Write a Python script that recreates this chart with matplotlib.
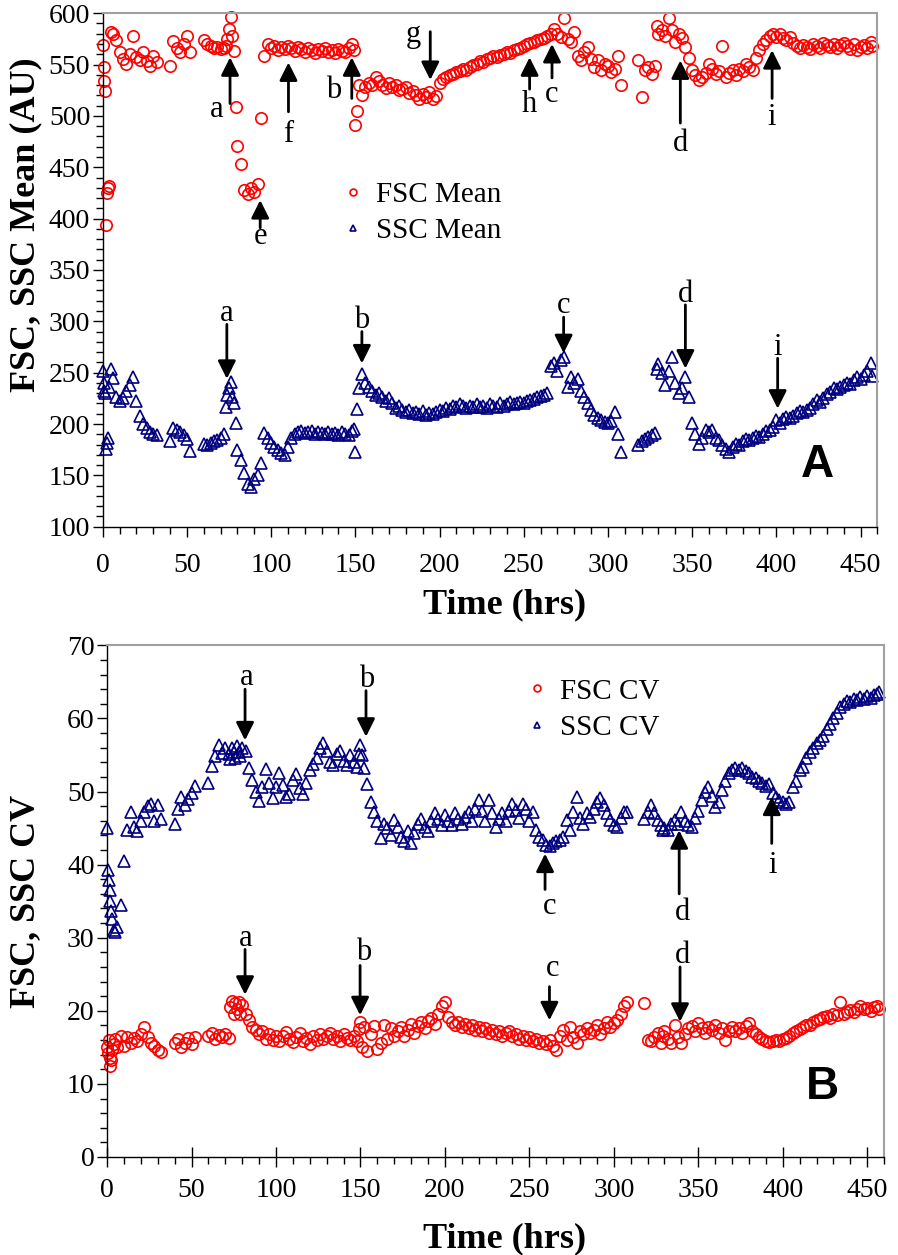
import numpy as np
import matplotlib
matplotlib.use("Agg")
import matplotlib.pyplot as plt
from matplotlib.ticker import MultipleLocator

# ---------------------------
# Daten
# ---------------------------
hours = [
    0, 0.5, 1, 1.5, 2, 2.5, 3, 4, 5, 6,
    8, 10, 12, 14, 16, 18, 20, 22, 24, 26,
    28, 30, 32,
    40, 42, 44, 46, 48, 50, 52,
    60, 62, 64, 66, 68, 70, 72, 73, 74, 75,
    76, 77, 78, 79, 80, 82, 84, 86, 88, 90,
    92, 94, 96, 98, 100, 102, 104, 106, 108, 110,
    112, 114, 116, 118, 120, 122, 124, 126, 128, 130,
    132, 134, 136, 138, 140, 142, 144, 146, 148, 149,
    150, 151, 152, 154, 156, 158, 160, 162, 164, 166,
    168, 170, 172, 174, 176, 178, 180, 182, 184, 186,
    188, 190, 192, 194, 196, 198, 200, 202, 204, 206,
    208, 210, 212, 214, 216, 218, 220, 222, 224, 226,
    228, 230, 232, 234, 236, 238, 240, 242, 244, 246,
    248, 250, 252, 254, 256, 258, 260, 262, 264, 266,
    268, 270, 272, 274, 276, 278, 280, 282, 284, 286,
    288, 290, 292, 294, 296, 298, 300, 302, 304, 306,
    308,
    318, 320, 322, 324, 326, 328, 329, 330, 332, 334,
    336, 338, 340, 342, 344, 346, 348, 350, 352, 354,
    356, 358, 360, 362, 364, 366, 368, 370, 372, 374,
    376, 378, 380, 382, 384, 386, 388, 390, 392, 394,
    396, 398, 400, 402, 404, 406, 408, 410, 412, 414,
    416, 418, 420, 422, 424, 426, 428, 430, 432, 434,
    436, 438, 440, 442, 444, 446, 448, 450, 452, 454,
    456, 457,
]

fsc_mean = [
    569, 548, 534, 524, 394, 425, 430, 432, 582, 580,
    574, 562, 555, 551, 560, 578, 557, 554, 562, 553,
    549, 558, 552,
    549, 573, 566, 562, 570, 578, 562,
    574, 570, 568, 566, 567, 565, 566, 568, 575, 585,
    596, 578, 563, 509, 471, 453, 428, 424, 430, 426,
    434, 498, 558, 570, 566, 568, 564, 567, 565, 568,
    566, 563, 567, 565, 562, 566, 564, 561, 565, 563,
    566, 562, 564, 561, 565, 563, 562, 566, 570, 564,
    491, 505, 530, 520, 528, 532, 530, 538, 534, 530,
    527, 532, 528, 530, 525, 526, 528, 522, 524, 520,
    516, 521, 518, 523, 516, 519, 532, 536, 538, 540,
    541, 543, 544, 546, 545, 548, 550, 551, 553, 552,
    555, 556, 558, 557, 559, 560, 562, 561, 564, 565,
    566, 568, 570, 571, 572, 574, 575, 576, 578, 580,
    585, 580, 577, 595, 575, 572, 582, 558, 554, 562,
    567, 555, 548, 554, 545, 551, 549, 543, 546, 558,
    530,
    554, 518, 545, 548, 541, 549, 588, 580, 584, 578,
    595, 584, 572, 580, 576, 567, 556, 545, 540, 535,
    538, 542, 551, 546, 541, 544, 568, 538, 542, 545,
    540, 546, 544, 551, 548, 545, 556, 564, 570, 574,
    578, 580, 577, 580, 576, 574, 577, 571, 568, 566,
    569, 567, 565, 570, 568, 566, 571, 569, 567, 570,
    566, 569, 571, 568, 565, 570, 564, 567, 569, 566,
    572, 568,
]

ssc_mean = [
    252, 240, 232, 230, 176, 182, 186, 236, 254, 245,
    226, 222, 225, 232, 238, 246, 222, 208, 200, 196,
    192, 190, 189,
    183, 196, 194, 192, 189, 185, 174,
    181, 180, 182, 183, 184, 186, 190, 217, 228, 235,
    241, 226, 220, 201, 175, 165, 152, 142, 139, 146,
    150, 162, 191, 186, 182, 178, 175, 172, 170, 178,
    186, 190, 192, 193, 191, 192, 193, 190, 192, 191,
    190, 192, 190, 191, 189, 192, 190, 189, 193, 195,
    173, 215, 235, 249, 240, 236, 232, 228, 230, 226,
    222, 225, 220, 216, 218, 214, 212, 214, 211, 212,
    210, 213, 209, 211, 210, 212, 214, 213, 216, 215,
    218, 217, 219, 218, 216, 218, 217, 219, 217, 218,
    216, 219, 218, 217, 220, 218, 219, 221, 219, 220,
    221, 220, 222, 223, 224, 226, 227, 228, 230, 256,
    259, 252, 262, 265, 236, 246, 240, 244, 232, 226,
    220, 214, 209, 206, 204, 202, 201, 203, 212, 190,
    173,
    180, 183, 185, 187, 189, 191, 254, 258, 250, 238,
    252, 265, 240, 230, 235, 246, 226, 201, 190, 181,
    186, 194, 192, 194, 186, 184, 180, 176, 173, 178,
    181, 180, 183, 185, 184, 186, 188, 187, 190, 193,
    194, 197, 204, 201, 205, 207, 206, 208, 211, 213,
    212, 214, 216, 219, 223, 221, 225, 229, 231, 235,
    234, 236, 238, 240, 239, 243, 246, 244, 248, 252,
    259, 247,
]

fsc_cv = [
    15.0, 14.2, 16.0, 13.5, 12.4, 13.3, 14.6, 15.5, 16.2, 15.0,
    16.5, 15.2, 16.4, 15.6, 16.3, 15.8, 16.8, 17.8, 16.4, 15.6,
    15.2, 14.6, 14.3,
    15.6, 16.2, 15.1, 15.6, 16.3, 15.4, 16.4,
    16.5, 16.9, 16.2, 16.7, 16.4, 16.8, 16.3, 20.5, 21.3, 19.6,
    21.0, 20.2, 21.2, 19.6, 20.8, 19.6, 18.7, 17.8, 17.4, 16.8,
    17.3, 16.2, 16.8, 16.0, 16.6, 15.8, 16.5, 17.1, 16.2, 15.7,
    16.4, 16.9, 15.9, 16.3, 15.4, 16.6, 16.0, 16.8, 16.1, 16.5,
    17.0, 16.2, 16.6, 15.9, 16.8, 16.3, 16.0, 16.6, 15.8, 17.5,
    18.5, 15.0, 17.8, 14.5, 16.8, 17.9, 14.8, 15.6, 18.0, 16.2,
    17.6, 16.5, 17.2, 17.8, 16.6, 17.4, 18.2, 17.0, 17.9, 18.4,
    17.6, 18.6, 19.0, 18.2, 19.6, 20.6, 21.2, 19.2, 18.4, 18.0,
    18.4, 17.8, 18.2, 17.6, 18.0, 17.4, 17.8, 17.2, 17.6, 17.0,
    17.4, 16.8, 17.2, 16.6, 16.9, 17.3, 16.5, 16.8, 16.2, 16.6,
    16.0, 16.4, 15.8, 16.2, 15.6, 15.9, 15.4, 16.0, 15.2, 14.6,
    16.6, 17.4, 16.0, 17.8, 16.4, 15.6, 17.2, 16.8, 17.6, 16.9,
    17.4, 18.0, 16.8, 17.6, 18.4, 17.8, 18.3, 18.8, 19.6, 20.6,
    21.2,
    21.0, 16.0, 15.8, 16.4, 16.9, 15.6, 16.5, 17.2, 16.2, 15.6,
    18.0, 16.4, 15.6, 16.8, 17.6, 17.9, 17.2, 18.3, 17.6, 17.0,
    17.8, 17.4, 18.0, 16.9, 17.6, 16.0, 17.3, 17.8, 17.2, 17.6,
    17.0, 17.9, 18.3, 17.2, 16.8, 16.4, 16.1, 15.9, 15.7, 15.8,
    16.0, 15.8, 16.1, 16.3, 16.6, 16.9, 17.2, 17.5, 17.8, 18.1,
    18.0, 18.4, 18.7, 18.9, 19.1, 19.3, 19.0, 19.6, 19.4, 21.2,
    19.6, 19.9, 20.1, 19.8, 20.3, 20.6, 20.2, 20.4, 20.0, 20.5,
    20.6, 20.2,
]

ssc_cv = [
    45.0, 39.3, 37.9, 36.5, 35.0, 33.6, 32.6, 31.1, 30.8, 31.5,
    34.5, 40.5, 44.8, 47.2, 45.2, 44.6, 46.0, 47.2, 48.0, 48.3,
    46.0, 48.2, 46.3,
    45.6, 47.6, 49.3, 48.1, 49.0, 49.8, 50.7,
    51.2, 53.5, 54.8, 56.4, 55.3, 56.0, 55.2, 54.5, 56.0, 55.4,
    54.6, 56.2, 55.4, 54.8, 56.0, 55.5, 53.2, 51.6, 50.0, 48.7,
    50.6, 53.1, 51.2, 49.1, 50.6, 52.6, 50.9, 49.3, 49.6, 51.6,
    52.4, 50.5, 49.6, 51.2, 53.0, 53.8, 54.6, 56.0, 56.7, 55.5,
    54.0, 53.6, 55.1, 55.6, 54.2, 53.6, 55.0, 54.0, 53.4, 55.2,
    56.4, 55.0, 53.2, 51.0, 48.6, 47.2, 46.0, 43.6, 45.5, 45.0,
    44.0, 46.1, 45.2, 43.8, 43.2, 44.6, 43.0, 44.3, 45.6, 46.2,
    45.2, 44.6, 46.0, 47.0, 46.2, 45.4, 46.8, 46.0, 45.4, 47.0,
    46.2, 45.6, 46.5, 47.2, 46.0, 47.6, 48.8, 47.3, 46.0, 48.8,
    47.0, 45.2, 46.2, 47.0, 46.0, 47.3, 48.3, 47.5, 46.4, 48.3,
    47.6, 46.0, 47.2, 44.8, 43.8, 43.3, 42.7, 42.6, 43.0, 43.2,
    43.4, 43.8, 46.1, 44.8, 47.2, 49.3, 46.4, 45.6, 47.0, 46.5,
    47.6, 48.6, 49.1, 48.2, 47.0, 46.1, 45.4, 45.2, 46.4, 47.2,
    47.2,
    46.3, 47.2, 48.1, 47.0, 46.1, 45.4, 44.7, 45.0, 44.7, 45.6,
    46.1, 45.6, 47.2, 46.0, 45.4, 45.2, 46.4, 47.4, 48.8, 50.0,
    50.6, 49.4, 47.9, 48.6, 50.2, 51.5, 52.5, 53.0, 53.2, 53.0,
    53.2, 52.8, 52.5, 52.0, 51.8, 51.5, 51.1, 50.8, 51.0, 49.8,
    49.3, 48.8, 48.5, 48.3, 48.6, 50.6, 51.5, 53.0, 53.4, 54.6,
    55.4, 55.9, 56.6, 57.0, 57.6, 58.5, 59.3, 60.0, 60.8, 61.6,
    62.0, 62.4, 62.3, 62.6, 62.5, 62.9, 62.7, 63.0, 62.8, 63.2,
    63.4, 63.6,
]

for reihe in (fsc_mean, ssc_mean, fsc_cv, ssc_cv):
    assert len(reihe) == len(hours), (len(reihe), len(hours))

# Pfeile: (Buchstabe, x Pfeil, y Ende, y Spitze, x Text, y Text-Grundlinie)
pfeile_A = [
    ("a", 75.6, 512, 557, 67.7, 499),
    ("f", 110.3, 504, 552, 110.3, 475),
    ("b", 147.9, 517, 557, 137.0, 517),
    ("e", 93.5, 391, 418, 93.5, 375),
    ("g", 194.5, 582, 535, 184.6, 572),
    ("h", 253.5, 526, 557, 253.5, 504),
    ("c", 266.8, 537, 570, 266.8, 514),
    ("d", 343.0, 493, 554, 343.0, 466),
    ("i", 397.5, 517, 564, 397.5, 491),
    ("a", 73.7, 297, 244, 73.7, 300),
    ("b", 153.9, 290, 259, 153.9, 293),
    ("c", 273.7, 304, 269, 273.7, 308),
    ("d", 346.0, 316, 254, 346.0, 319),
    ("i", 400.8, 264, 215, 400.8, 267),
]
pfeile_B = [
    ("a", 81.7, 64.0, 57.0, 82.7, 64.6),
    ("b", 153.3, 63.8, 57.5, 153.7, 64.3),
    ("a", 81.7, 28.4, 22.2, 82.3, 28.9),
    ("b", 149.8, 26.2, 19.4, 152.0, 26.9),
    ("c", 259.3, 36.6, 41.5, 262.3, 33.2),
    ("d", 338.7, 36.0, 44.7, 340.6, 32.4),
    ("i", 393.5, 42.9, 49.3, 394.1, 38.8),
    ("c", 261.9, 23.3, 18.7, 263.9, 24.7),
    ("d", 339.2, 26.0, 18.5, 340.8, 26.5),
]

# ---------------------------
# Plot
# ---------------------------
plt.rcParams['font.family'] = ['Liberation Serif', 'DejaVu Serif']
rot = '#ff0000'
blau = '#000080'
grau = '#a0a0a0'

fig = plt.figure(figsize=(8.98, 12.55), dpi=100)
axA = fig.add_axes([0.1144, 0.5803, 0.8626, 0.4092])
axB = fig.add_axes([0.1192, 0.0781, 0.8653, 0.4077])


def punkte(ax, y, marker, farbe, label, ms):
    ax.plot(hours, y, linestyle='none', marker=marker, mfc='none', mec=farbe,
            ms=ms, mew=1.2, label=label, clip_on=False)


def pfeil(ax, text, x, y_ende, y_spitze, xt, yt):
    ax.annotate('', xy=(x, y_spitze), xytext=(x, y_ende),
                arrowprops=dict(arrowstyle='-|>,head_length=0.9,head_width=0.45',
                                color='black', lw=2.0, mutation_scale=12,
                                shrinkA=0, shrinkB=0))
    ax.text(xt, yt, text, ha='center', va='baseline', fontsize=22)


def achsen_stil(ax):
    ax.set_xlim(0, 460)
    ax.xaxis.set_major_locator(MultipleLocator(50))
    ax.xaxis.set_minor_locator(MultipleLocator(10))
    for s in ('top', 'right'):
        ax.spines[s].set_color(grau)
        ax.spines[s].set_linewidth(1.5)
    for s in ('left', 'bottom'):
        ax.spines[s].set_linewidth(1.0)
    ax.tick_params(labelsize=20)


# --- Panel A ---
punkte(axA, fsc_mean, 'o', rot, 'FSC Mean', 8.2)
punkte(axA, ssc_mean, '^', blau, 'SSC Mean', 8.0)
achsen_stil(axA)
axA.set_ylim(100, 600)
axA.yaxis.set_major_locator(MultipleLocator(50))
axA.yaxis.set_minor_locator(MultipleLocator(10))
axA.tick_params(which='major', direction='out', length=7, width=1)
axA.tick_params(which='minor', direction='out', length=5, width=1)
axA.tick_params(axis='x', which='major', pad=12)
axA.tick_params(axis='y', which='major', pad=2)
axA.set_xlabel('Time (hrs)', fontsize=26, fontweight='bold')
axA.set_ylabel('FSC, SSC Mean (AU)', fontsize=26, fontweight='bold')
axA.xaxis.set_label_coords(0.519, -0.119)
axA.yaxis.set_label_coords(-0.078, 0.588)
for p in pfeile_A:
    pfeil(axA, *p)
axA.text(424.4, 160, 'A', ha='center', va='center', fontsize=33,
         fontweight='bold', family='Liberation Sans')
axA.legend(loc='center left', bbox_to_anchor=(0.289, 0.611), frameon=False,
           fontsize=21, markerscale=0.6, handlelength=0.8, handletextpad=0.4,
           borderpad=0, labelspacing=0.35)

# --- Panel B ---
punkte(axB, fsc_cv, 'o', rot, 'FSC CV', 8.2)
punkte(axB, ssc_cv, '^', blau, 'SSC CV', 8.0)
achsen_stil(axB)
axB.set_ylim(0, 70)
axB.yaxis.set_major_locator(MultipleLocator(10))
axB.yaxis.set_minor_locator(MultipleLocator(2))
axB.tick_params(axis='y', which='major', direction='out', length=7, width=1, pad=2)
axB.tick_params(axis='y', which='minor', direction='out', length=5, width=1)
axB.tick_params(axis='x', which='major', direction='inout', length=14, width=1, pad=8)
axB.tick_params(axis='x', which='minor', direction='out', length=5, width=1)
axB.set_xlabel('Time (hrs)', fontsize=26, fontweight='bold')
axB.set_ylabel('FSC, SSC CV', fontsize=26, fontweight='bold')
axB.xaxis.set_label_coords(0.512, -0.127)
axB.yaxis.set_label_coords(-0.084, 0.5)
for p in pfeile_B:
    pfeil(axB, *p)
axB.text(423.3, 9.6, 'B', ha='center', va='center', fontsize=33,
         fontweight='bold', family='Liberation Sans')
axB.legend(loc='center left', bbox_to_anchor=(0.519, 0.874), frameon=False,
           fontsize=21, markerscale=0.6, handlelength=0.8, handletextpad=0.4,
           borderpad=0, labelspacing=0.35)

fig.savefig('out.png', dpi=100)
print("gespeichert: out.png")
